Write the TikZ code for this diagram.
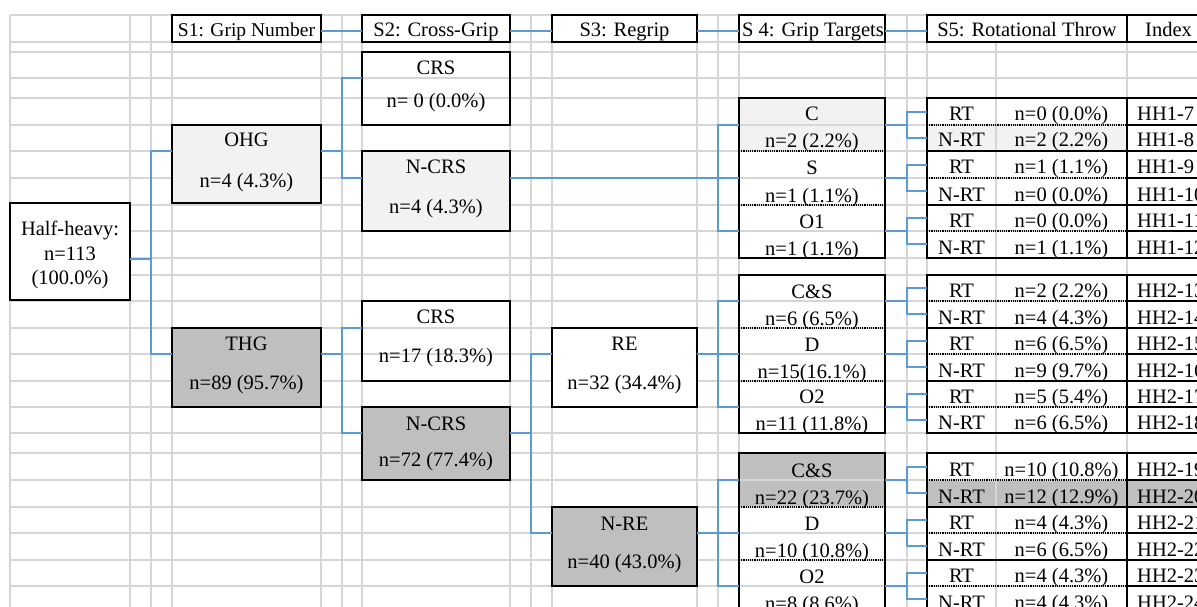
\documentclass[tikz,border=0pt]{standalone}
\usepackage{fontspec}
\setmainfont{Liberation Serif}
\definecolor{gridc}{RGB}{214,214,214}
\definecolor{connc}{RGB}{91,155,213}
\definecolor{lg}{RGB}{242,242,242}
\definecolor{dg}{RGB}{191,191,191}
\newcommand\bbox[6]{\node[bx,#6,minimum width={(#4-#2)*1pt},minimum height={(#5-#3)*1pt}] (#1) at ({(#2+#4)/2},{(#3+#5)/2}) {};}
\begin{document}
\begin{tikzpicture}[x=1pt,y=-1pt,
  font=\fontsize{20.5}{24}\selectfont,
  gl/.style={draw=gridc, line width=1.4pt},
  bx/.style={draw=black, line width=1.8pt, inner sep=0pt, outer sep=0pt, rectangle},
  dl/.style={draw=black, line width=1.2pt, dash pattern=on 1.2pt off 1pt},
  cn/.style={draw=connc, line width=1.3pt},
  tx/.style={anchor=base, inner sep=0pt},
  tl/.style={anchor=base west, inner sep=0pt}]
\useasboundingbox (0,0) rectangle (1197,607);
\clip (0,0) rectangle (1197,607);
\fill[white] (0,0) rectangle (1197,607);
% cell fills
\fill[lg] (739,98) rectangle (885,151);
\fill[dg] (739,453) rectangle (885,507);
\fill[lg] (927,125) rectangle (1127,151);
\fill[dg] (927,480) rectangle (1215,507);
% gridlines
\foreach \x in {10,130,151,172,321,342,362,510,531,552,697,718,739,885,907,927,996,1127}
  \draw[gl] (\x,15) -- (\x,620);
\foreach \y in {15,42,52,78,98,125,151,178,205,231,258,275,301,328,354,381,407,433,453,480,507,533,560,586}
  \draw[gl] (10,\y) -- (1215,\y);
% header boxes
\bbox{s1}{172}{15}{321}{42}{fill=white}
\bbox{s2}{362}{15}{510}{42}{fill=white}
\bbox{s3}{552}{15}{697}{42}{fill=white}
\bbox{s4}{739}{15}{885}{42}{fill=white}
\bbox{s5}{927}{15}{1127}{42}{fill=white}
\bbox{idx}{1127}{15}{1215}{42}{fill=white}
% tree boxes
\bbox{hh}{10}{203}{130}{300}{fill=white}
\bbox{ohg}{172}{125}{321}{203}{fill=lg}
\bbox{thg}{172}{328}{321}{407}{fill=dg}
\bbox{crsa}{362}{52}{510}{125}{}
\bbox{ncrsa}{362}{151}{510}{231}{fill=lg}
\bbox{crsb}{362}{301}{510}{381}{}
\bbox{ncrsb}{362}{407}{510}{480}{fill=dg}
\bbox{re}{552}{328}{697}{407}{fill=white}
\bbox{nre}{552}{507}{697}{586}{fill=dg}
% S4 groups
\bbox{ga}{739}{98}{885}{258}{}
\bbox{gb}{739}{275}{885}{433}{}
\bbox{gc}{739}{453}{885}{620}{}
\foreach \y in {151,205,328,381,507,560} \draw[dl] (739,\y) -- (885,\y);
% S5 groups
\foreach \y in {125,178,231,301,354,407,480,533,586} {
  \draw[dl] (927,\y) -- (1127,\y);
  \draw[black, line width=1.8pt] (1127,\y) -- (1215,\y);
}
\foreach \y in {151,205,328,381,507,560}
  \draw[black, line width=1.8pt] (927,\y) -- (1215,\y);
\bbox{ra}{927}{98}{1127}{258}{}
\bbox{rb}{927}{275}{1127}{433}{}
\bbox{rc}{927}{453}{1127}{620}{}
\bbox{ia}{1127}{98}{1215}{258}{}
\bbox{ib}{1127}{275}{1215}{433}{}
\bbox{ic}{1127}{453}{1215}{620}{}
% connectors: headers
\draw[cn] ([yshift=-2.5pt]s1.east) -- ([yshift=-2.5pt]s2.west);
\draw[cn] ([yshift=-2.5pt]s2.east) -- ([yshift=-2.5pt]s3.west);
\draw[cn] ([yshift=-2.5pt]s3.east) -- ([yshift=-2.5pt]s4.west);
\draw[cn] ([yshift=-2.5pt]s4.east) -- ([yshift=-2.5pt]s5.west);
% tree connectors
\coordinate (hhE) at (130,259); \coordinate (jA) at (151,259);
\coordinate (ohgW) at (172,151); \coordinate (thgW) at (172,354);
\draw[cn] (hhE) -- (jA); \draw[cn] (jA) |- (ohgW); \draw[cn] (jA) |- (thgW);
\coordinate (ohgE) at (321,151); \coordinate (jB) at (342,151);
\coordinate (crsaW) at (362,78); \coordinate (ncrsaW) at (362,178);
\draw[cn] (ohgE) -- (jB); \draw[cn] (jB) |- (crsaW); \draw[cn] (jB) |- (ncrsaW);
\coordinate (ncrsaE) at (510,178); \coordinate (gab) at (739,178); \coordinate (jC) at (718,178);
\coordinate (gaa) at (739,125); \coordinate (gac) at (739,231);
\draw[cn] (ncrsaE) -- (gab); \draw[cn] (jC) |- (gaa); \draw[cn] (jC) |- (gac);
\coordinate (thgE) at (321,354); \coordinate (jD) at (342,354);
\coordinate (crsbW) at (362,328); \coordinate (ncrsbW) at (362,433);
\draw[cn] (thgE) -- (jD); \draw[cn] (jD) |- (crsbW); \draw[cn] (jD) |- (ncrsbW);
\coordinate (ncrsbE) at (510,433); \coordinate (jE) at (531,433);
\coordinate (reW) at (552,354); \coordinate (nreW) at (552,533);
\draw[cn] (ncrsbE) -- (jE); \draw[cn] (jE) |- (reW); \draw[cn] (jE) |- (nreW);
\coordinate (reE) at (697,354); \coordinate (gbb) at (739,354); \coordinate (jF) at (718,354);
\coordinate (gba) at (739,301); \coordinate (gbc) at (739,407);
\draw[cn] (reE) -- (gbb); \draw[cn] (jF) |- (gba); \draw[cn] (jF) |- (gbc);
\coordinate (nreE) at (697,533); \coordinate (gcb) at (739,533); \coordinate (jG) at (718,533);
\coordinate (gca) at (739,480); \coordinate (gcc) at (739,586);
\draw[cn] (nreE) -- (gcb); \draw[cn] (jG) |- (gca); \draw[cn] (jG) |- (gcc);
\foreach \c [count=\k] in {125,178,231,301,354,407,480,533,586} {
  \coordinate (sE\k) at (885,\c); \coordinate (sJ\k) at (907,\c);
  \coordinate (sR\k) at (927,\c-13); \coordinate (sN\k) at (927,\c+13);
  \draw[cn] (sE\k) -- (sJ\k); \draw[cn] (sJ\k) |- (sR\k); \draw[cn] (sJ\k) |- (sN\k);
}
% header texts
\node[tx, font=\fontsize{19.5}{24}\selectfont] (t1) at (246.5,37) {S1: Grip Number};
\node[tx] (t2) at (436,37) {S2: Cross-Grip};
\node[tx] (t3) at (624.5,37) {S3: Regrip};
\node[tl] (t4) at (742,37) {S 4: Grip Targets};
\node[tx] (t5) at (1027,37) {S5: Rotational Throw};
\node[tx] (t6) at (1168.5,37) {Index};
% tree texts
\node[tx] (h1) at (70,235) {Half-heavy:};
\node[tx] (h2) at (70,260) {n=113};
\node[tx] (h3) at (70,284) {(100.0\%)};
\node[tx] (o1) at (246.5,147) {OHG};
\node[tx] (o2) at (246.5,187) {n=4 (4.3\%)};
\node[tx] (g1) at (246.5,350) {THG};
\node[tx] (g2) at (246.5,389) {n=89 (95.7\%)};
\node[tx] (c1) at (436,75) {CRS};
\node[tx] (c2) at (436,108) {n= 0 (0.0\%)};
\node[tx] (c3) at (436,173) {N-CRS};
\node[tx] (c4) at (436,213) {n=4 (4.3\%)};
\node[tx] (c5) at (436,323) {CRS};
\node[tx] (c6) at (436,362) {n=17 (18.3\%)};
\node[tx] (c7) at (436,430) {N-CRS};
\node[tx] (c8) at (436,466) {n=72 (77.4\%)};
\node[tx] (e1) at (624.5,350) {RE};
\node[tx] (e2) at (624.5,389) {n=32 (34.4\%)};
\node[tx] (e3) at (624.5,530) {N-RE};
\node[tx] (e4) at (624.5,568) {n=40 (43.0\%)};
% S4 texts
\foreach \b/\lab/\val [count=\i] in {
  151/C/{n=2 (2.2\%)}, 205/S/{n=1 (1.1\%)}, 258/O1/{n=1 (1.1\%)},
  328/C\&S/{n=6 (6.5\%)}, 381/D/{n=15(16.1\%)}, 433/O2/{n=11 (11.8\%)},
  507/C\&S/{n=22 (23.7\%)}, 560/D/{n=10 (10.8\%)}, 613/O2/{n=8 (8.6\%)}} {
  \node[tx] (fa\i) at (812,\b-30) {\lab};
  \node[tx] (fb\i) at (812,\b-3) {\val};
}
% S5 texts
\foreach \b/\lab/\val/\idx [count=\i] in {
  125/RT/{n=0 (0.0\%)}/HH1-7, 151/N-RT/{n=2 (2.2\%)}/HH1-8,
  178/RT/{n=1 (1.1\%)}/HH1-9, 205/N-RT/{n=0 (0.0\%)}/HH1-10,
  231/RT/{n=0 (0.0\%)}/HH1-11, 258/N-RT/{n=1 (1.1\%)}/HH1-12,
  301/RT/{n=2 (2.2\%)}/HH2-13, 328/N-RT/{n=4 (4.3\%)}/HH2-14,
  354/RT/{n=6 (6.5\%)}/HH2-15, 381/N-RT/{n=9 (9.7\%)}/HH2-16,
  407/RT/{n=5 (5.4\%)}/HH2-17, 433/N-RT/{n=6 (6.5\%)}/HH2-18,
  480/RT/{n=10 (10.8\%)}/HH2-19, 507/N-RT/{n=12 (12.9\%)}/HH2-20,
  533/RT/{n=4 (4.3\%)}/HH2-21, 560/N-RT/{n=6 (6.5\%)}/HH2-22,
  586/RT/{n=4 (4.3\%)}/HH2-23, 613/N-RT/{n=4 (4.3\%)}/HH2-24} {
  \node[tx] (ka\i) at (961.5,\b-4) {\lab};
  \node[tx] (kb\i) at (1061.5,\b-4) {\val};
  \node[tl] (kc\i) at (1137,\b-4) {\idx};
}
\end{tikzpicture}
\end{document}
